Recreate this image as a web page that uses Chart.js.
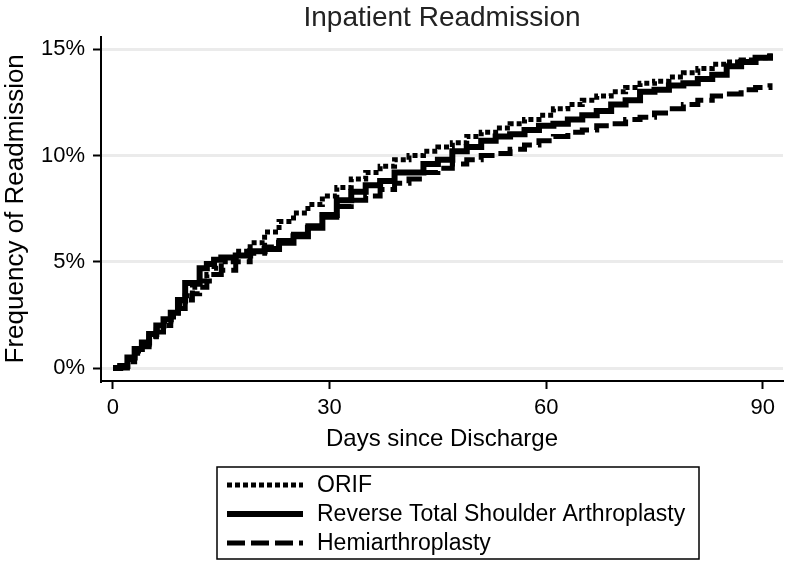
<!DOCTYPE html>
<html>
<head>
<meta charset="utf-8">
<title>Inpatient Readmission</title>
<script src="https://cdn.jsdelivr.net/npm/chart.js@4.4.1/dist/chart.umd.min.js"></script>
<style>
    html, body { margin: 0; padding: 0; background: #fff; }
    #wrap { width: 786px; height: 563px; }
</style>
</head>
<body>
<div id="wrap"><canvas id="readmissionChart" width="786" height="563"></canvas></div>
<script>
// Days since discharge (step points) and cumulative readmission in %
const days = [0, 1, 2, 3, 4, 5, 6, 7, 8, 9, 10, 11, 12, 13, 14, 15, 17, 19, 21, 23, 25, 27, 29,
    31, 33, 35, 37, 39, 41, 43, 45, 47, 49, 51, 53, 55, 57, 59, 61, 63, 65, 67, 69,
    71, 73, 75, 77, 79, 81, 83, 85, 87, 89, 91];

const orif = [0, 0.1, 0.4, 0.8, 1.1, 1.5, 1.8, 2.2, 2.6, 3.0, 3.4, 3.8, 4.1, 4.4, 4.7, 5.0, 5.5, 5.9, 6.4,
    6.9, 7.3, 7.7, 8.1, 8.5, 8.9, 9.2, 9.5, 9.8, 10.0, 10.2, 10.4, 10.6, 10.9, 11.1, 11.3, 11.5,
    11.7, 11.9, 12.2, 12.4, 12.6, 12.8, 13.0, 13.2, 13.4, 13.5, 13.7, 13.9, 14.1, 14.3, 14.4,
    14.5, 14.6, 14.8];

const rtsa = [0, 0.1, 0.5, 0.9, 1.2, 1.6, 2.0, 2.3, 2.6, 3.2, 4.0, 4.0, 4.7, 4.9, 5.1, 5.2, 5.3, 5.5, 5.6,
    5.9, 6.2, 6.6, 7.2, 7.9, 8.3, 8.6, 8.8, 9.2, 9.2, 9.6, 9.8, 10.2, 10.4, 10.7, 10.9, 11.0,
    11.2, 11.4, 11.5, 11.7, 11.9, 12.1, 12.4, 12.6, 13.0, 13.1, 13.3, 13.4, 13.6, 13.8, 14.2,
    14.4, 14.6, 14.8];

const hemi = [0, 0, 0.3, 0.7, 1.0, 1.3, 1.7, 2.0, 2.4, 2.8, 3.2, 3.5, 3.8, 4.1, 4.4, 4.6, 5.0, 5.4, 5.7,
    6.0, 6.3, 6.7, 7.1, 7.6, 7.9, 8.1, 8.4, 8.7, 8.9, 9.2, 9.4, 9.6, 9.8, 10.0, 10.1, 10.3,
    10.5, 10.7, 10.9, 11.1, 11.2, 11.4, 11.5, 11.7, 11.8, 12.0, 12.2, 12.4, 12.6, 12.8, 12.9,
    13.1, 13.2, 13.4];

const seriesNames = ['ORIF', 'Reverse Total Shoulder Arthroplasty', 'Hemiarthroplasty'];
const xTicks = [0, 30, 60, 90];
const yTicks = [0, 5, 10, 15];

const fontFamily = '"Liberation Sans", Arial, Helvetica, sans-serif';

function toPoints(values) {
    return days.map((d, i) => ({ x: d, y: values[i] }));
}

// Boxed legend under the x axis title, one entry per row
const boxedLegend = {
    id: 'boxedLegend',
    afterDraw(chart) {
        const c = chart.ctx;
        const left = 217, top = 467, width = 482, height = 92;
        c.save();
        c.strokeStyle = '#000';
        c.lineWidth = 1.5;
        c.strokeRect(left, top, width, height);

        chart.data.datasets.forEach((ds, i) => {
            const y = top + 18 + i * 29;
            c.beginPath();
            c.setLineDash(ds.borderDash || []);
            c.lineWidth = ds.borderWidth;
            c.strokeStyle = ds.borderColor;
            c.moveTo(left + 10, y);
            c.lineTo(left + 86, y);
            c.stroke();
            c.setLineDash([]);
            c.fillStyle = '#000';
            c.font = '23px ' + fontFamily;
            c.textBaseline = 'middle';
            c.fillText(ds.label, left + 100, y + 1);
        });
        c.restore();
    }
};

const ctx = document.getElementById('readmissionChart').getContext('2d');

const chart = new Chart(ctx, {
    type: 'line',
    data: {
        datasets: [
            {
                label: seriesNames[0],
                data: toPoints(orif),
                borderColor: '#000',
                borderWidth: 5,
                borderDash: [5, 3],
                stepped: true,
                pointRadius: 0
            },
            {
                label: seriesNames[1],
                data: toPoints(rtsa),
                borderColor: '#000',
                borderWidth: 6,
                stepped: true,
                pointRadius: 0
            },
            {
                label: seriesNames[2],
                data: toPoints(hemi),
                borderColor: '#000',
                borderWidth: 5,
                borderDash: [18, 6],
                stepped: true,
                pointRadius: 0
            }
        ]
    },
    options: {
        responsive: false,
        animation: false,
        layout: {
            padding: { left: 0, right: 3, top: 0, bottom: 107 }
        },
        scales: {
            x: {
                type: 'linear',
                min: -1.66,
                max: 92.8,
                afterBuildTicks: scale => { scale.ticks = xTicks.map(v => ({ value: v })); },
                afterFit: scale => { scale.height = 75; },
                border: { color: '#000', width: 2 },
                grid: { drawOnChartArea: false, tickColor: '#000', tickLength: 8, tickWidth: 2 },
                ticks: {
                    color: '#000',
                    padding: 6,
                    maxRotation: 0,
                    font: { family: fontFamily, size: 22 }
                },
                title: {
                    display: true,
                    text: 'Days since Discharge',
                    color: '#000',
                    padding: { top: 0, bottom: 2 },
                    font: { family: fontFamily, size: 24 }
                }
            },
            y: {
                type: 'linear',
                min: -0.61,
                max: 15.6,
                afterBuildTicks: scale => { scale.ticks = yTicks.map(v => ({ value: v })); },
                afterFit: scale => { scale.width = 101; },
                border: { color: '#000', width: 2 },
                grid: {
                    color: '#ebebeb',
                    lineWidth: 3,
                    tickColor: '#000',
                    tickLength: 8,
                    tickWidth: 2
                },
                ticks: {
                    color: '#000',
                    padding: 8,
                    font: { family: fontFamily, size: 22 },
                    callback: v => v + '%'
                },
                title: {
                    display: true,
                    text: 'Frequency of Readmission',
                    color: '#000',
                    padding: { top: 0, bottom: 0 },
                    font: { family: fontFamily, size: 26 }
                }
            }
        },
        plugins: {
            legend: { display: false },
            tooltip: { enabled: false },
            title: {
                display: true,
                text: 'Inpatient Readmission',
                color: '#222',
                fullSize: false,
                padding: { top: 1, bottom: 2 },
                font: { family: fontFamily, size: 28, weight: 'normal' }
            }
        }
    },
    plugins: [boxedLegend]
});
</script>
</body>
</html>
